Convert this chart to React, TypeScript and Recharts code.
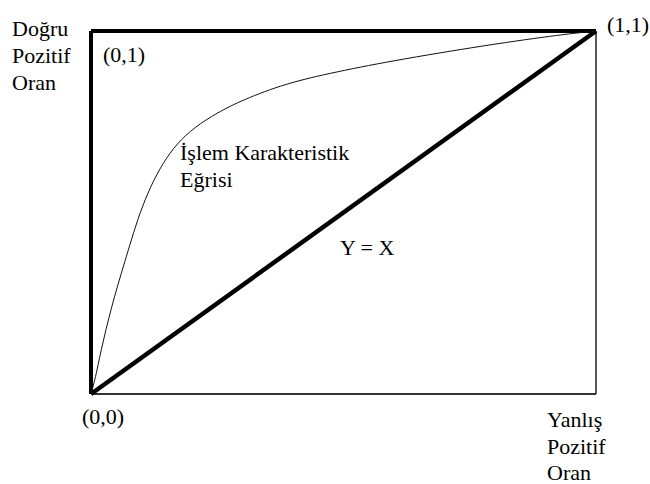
import { LineChart, Line, XAxis, YAxis, ReferenceLine } from "recharts";

// ROC curve (false positive rate -> true positive rate)
const rocX = [0, 0.006, 0.012, 0.02, 0.03, 0.04, 0.053, 0.067, 0.08, 0.097, 0.117, 0.143, 0.17, 0.205, 0.25, 0.3, 0.384, 0.483, 0.612, 0.81, 0.949, 1];
const rocY = [0, 0.03, 0.066, 0.121, 0.18, 0.235, 0.3, 0.365, 0.425, 0.5, 0.57, 0.638, 0.69, 0.735, 0.775, 0.81, 0.855, 0.887, 0.922, 0.967, 0.993, 1];

// Y = X reference diagonal
const diagX = [0, 1];
const diagY = [0, 1];

const rocData = rocX.map((x, i) => ({ x, roc: rocY[i] }));
const diagData = diagX.map((x, i) => ({ x, diag: diagY[i] }));

const textStyle: React.CSSProperties = {
  position: "absolute",
  fontFamily: "'Times New Roman', 'Liberation Serif', Times, 'Noto Serif', 'DejaVu Serif', FreeSerif, Tinos, serif",
  fontSize: 22,
  lineHeight: "27px",
  color: "#000",
  whiteSpace: "nowrap",
};

const App = () => {
  return (
    <div style={{ position: "absolute", left: 0, top: 0, width: 650, height: 484, background: "#fff" }}>
      <LineChart width={650} height={484} margin={{ top: 31, right: 54, bottom: 90, left: 91 }}>
        <XAxis type="number" dataKey="x" domain={[0, 1]} hide />
        <YAxis type="number" domain={[0, 1]} hide />
        <ReferenceLine y={0} stroke="#333" strokeWidth={2} ifOverflow="visible" />
        <ReferenceLine x={1} stroke="#222" strokeWidth={1.5} ifOverflow="visible" />
        <ReferenceLine y={1} stroke="#000" strokeWidth={4} ifOverflow="visible" />
        <ReferenceLine x={0} stroke="#000" strokeWidth={4} ifOverflow="visible" />
        <Line data={diagData} type="linear" dataKey="diag" stroke="#000" strokeWidth={4.5} dot={false} isAnimationActive={false} />
        <Line data={rocData} type="basis" dataKey="roc" stroke="#111" strokeWidth={1} dot={false} isAnimationActive={false} />
      </LineChart>
      <div style={{ ...textStyle, left: 12, top: 15 }}>Doğru<br />Pozitif<br />Oran</div>
      <div style={{ ...textStyle, left: 103, top: 41 }}>(0,1)</div>
      <div style={{ ...textStyle, left: 607, top: 11 }}>(1,1)</div>
      <div style={{ ...textStyle, left: 82, top: 403 }}>(0,0)</div>
      <div style={{ ...textStyle, left: 180, top: 139 }}>İşlem Karakteristik<br />Eğrisi</div>
      <div style={{ ...textStyle, left: 340, top: 234 }}>Y = X</div>
      <div style={{ ...textStyle, left: 547, top: 407, lineHeight: "26.5px" }}>Yanlış<br />Pozitif<br />Oran</div>
    </div>
  );
};

export default App;
